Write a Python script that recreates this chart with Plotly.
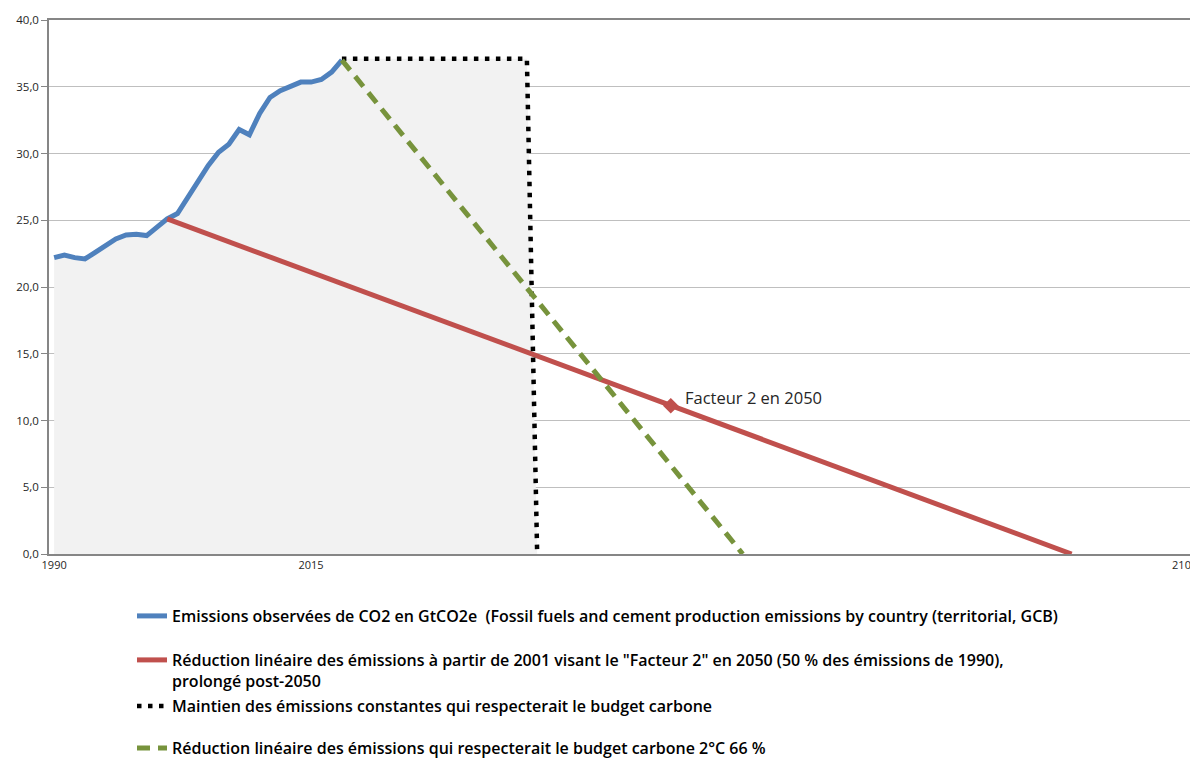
import plotly.graph_objects as go

# ---- data ----
obs_years = list(range(1990, 2019))
obs_values = [22.2, 22.4, 22.2, 22.1, 22.6, 23.1, 23.6, 23.9, 23.95, 23.85,
              24.5, 25.1, 25.5, 26.7, 28.0, 29.1, 30.1, 30.7, 31.8, 31.4,
              33.0, 34.2, 34.7, 35.0, 35.35, 35.35, 35.55, 36.1, 37.0]

facteur2_years = [2001, 2050, 2089]
facteur2_values = [25.1, 11.1, 0.0]
facteur2_mark_year = [2050]
facteur2_mark_value = [11.1]

constant_years = [2018, 2036, 2037]
constant_values = [37.1, 37.1, 0.0]

budget_years = [2018, 2057]
budget_values = [37.0, 0.0]

area_years = obs_years + [2036, 2037]
area_values = obs_values[:-1] + [37.1, 37.1, 0.0]

x_ticks = [1990, 2015, 2100]
y_ticks = [0, 5, 10, 15, 20, 25, 30, 35, 40]
y_tick_text = ["0,0", "5,0", "10,0", "15,0", "20,0", "25,0", "30,0", "35,0", "40,0"]

names = [
    "Emissions observées de CO2 en GtCO2e  (Fossil fuels and cement production emissions by country (territorial, GCB)",
    "Réduction linéaire des émissions à partir de 2001 visant le \"Facteur 2\" en 2050 (50 % des émissions de 1990),<br>prolongé post-2050",
    "Maintien des émissions constantes qui respecterait le budget carbone",
    "Réduction linéaire des émissions qui respecterait le budget carbone 2°C 66 %",
]

BLUE = "#4f81bd"
RED = "#c0504d"
GREEN = "#77933c"
FONT = "Open Sans"

fig = go.Figure()

# grey area (carbon budget)
fig.add_trace(go.Scatter(x=area_years, y=area_values, mode="lines",
                         line=dict(width=0, color="#f2f2f2"), fill="tozeroy",
                         fillcolor="#f2f2f2", showlegend=False, hoverinfo="skip"))

fig.add_trace(go.Scatter(x=obs_years, y=obs_values, mode="lines",
                         line=dict(color=BLUE, width=5), name=names[0], legend="legend"))

fig.add_trace(go.Scatter(x=facteur2_years, y=facteur2_values, mode="lines",
                         line=dict(color=RED, width=5), name=names[1], legend="legend2"))
fig.add_trace(go.Scatter(x=facteur2_mark_year, y=facteur2_mark_value, mode="markers",
                         marker=dict(symbol="diamond", size=12, color=RED),
                         showlegend=False))

fig.add_trace(go.Scatter(x=constant_years, y=constant_values, mode="lines",
                         line=dict(color="#000000", width=4.5, dash="4.5px,6.5px"),
                         name=names[2], legend="legend3"))

fig.add_trace(go.Scatter(x=budget_years, y=budget_values, mode="lines",
                         line=dict(color=GREEN, width=5, dash="13px,8px"),
                         name=names[3], legend="legend4"))

fig.add_annotation(x=2050, y=11.1, text="Facteur 2 en 2050", showarrow=False,
                   xanchor="left", yanchor="middle", xshift=12, yshift=8,
                   font=dict(family=FONT, size=16.5, color="#262626"))

# The page body has an 8px margin, so the figure is 8px smaller than the
# window and its margins are reduced by 8px to place the plot as intended.
OFF = 8
W, H = 1198 - OFF, 760 - OFF
ML, MR, MT, MB = 49 - OFF, 0, 20 - OFF, 206
pw = W - ML - MR
ph = H - MT - MB
plot_left = OFF + ML
plot_bottom = OFF + H - MB


def px_x(x):
    return (x - plot_left) / pw


def px_y(y):
    return (plot_bottom - y) / ph


leg_font = dict(family=FONT, size=16, color="#000000", weight=600)
leg_common = dict(xanchor="left", yanchor="middle", bgcolor="rgba(0,0,0,0)",
                  borderwidth=0, font=leg_font, valign="top", itemwidth=30)

fig.update_layout(
    width=W, height=H,
    margin=dict(l=ML, r=MR, t=MT, b=MB, autoexpand=False),
    paper_bgcolor="white", plot_bgcolor="white",
    xaxis=dict(range=[1989.5, 2101.3], tickvals=x_ticks, showgrid=False,
               showline=True, linecolor="#868686", linewidth=1.5, mirror=True,
               ticks="", zeroline=False, automargin=False,
               tickfont=dict(family=FONT, size=11, color="#262626")),
    yaxis=dict(range=[0, 40], tickvals=y_ticks, ticktext=y_tick_text,
               showgrid=True, gridcolor="#bfbfbf", gridwidth=1,
               showline=True, linecolor="#868686", linewidth=1.5,
               ticks="outside", ticklen=6, tickcolor="#868686",
               zeroline=False, automargin=False,
               tickfont=dict(family=FONT, size=11.5, color="#262626")),
    legend=dict(x=px_x(132), y=px_y(616), **leg_common),
    legend2=dict(x=px_x(132), y=px_y(670.5), **leg_common),
    legend3=dict(x=px_x(132), y=px_y(706), **leg_common),
    legend4=dict(x=px_x(132), y=px_y(748), **leg_common),
)

fig.write_html("out.html")
